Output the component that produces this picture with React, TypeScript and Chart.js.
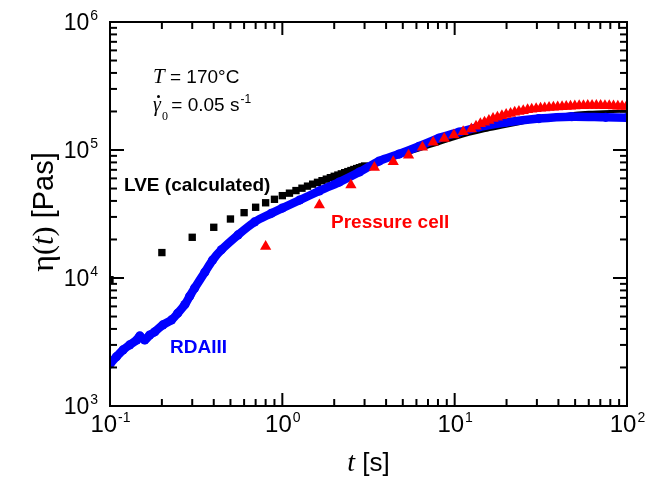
import React, { useEffect, useRef } from 'react';
import { Chart, registerables } from 'chart.js';

Chart.register(...registerables);

// LVE (calculated) – discrete squares
const lveT = [0.1, 0.2, 0.3, 0.4, 0.5, 0.6, 0.7, 0.8, 0.9, 1.0, 1.1, 1.2, 1.3, 1.4, 1.5, 1.6, 1.7, 1.8, 1.9, 2.0, 2.1, 2.2, 2.3, 2.4, 2.5, 2.6, 2.7, 2.8, 2.9, 3.0];
const lveEta = [9700, 15800, 20800, 24900, 28900, 32400, 35700, 38700, 41200, 44000, 46000, 48200, 50300, 52200, 54100, 55900, 57600, 59200, 60800, 62300, 63700, 65100, 66500, 67800, 69100, 70400, 71600, 72800, 73900, 75000];
// LVE (calculated) – dense part, rendered as continuous line
const lveLineT = [3.0, 4.0, 5.1, 6.5, 8.0, 9.9, 12.1, 15, 18.9, 24, 29.4, 37, 46, 60, 80, 100];
const lveLineEta = [75000, 84000, 92000, 102000, 111500, 122500, 132500, 142000, 151000, 161000, 171000, 182000, 191000, 197000, 200000, 201000];

// RDAIII
const rdaT = [0.1, 0.109, 0.119, 0.13, 0.143, 0.149, 0.159, 0.17, 0.182, 0.2025, 0.2275, 0.247, 0.272, 0.29, 0.31, 0.355, 0.394, 0.443, 0.553, 0.69, 0.863, 1.0, 1.26, 1.64, 2.14, 2.8, 3.65, 4.76, 6.22, 8.13, 10.6, 13.8, 19.6, 30.8, 47.8, 75.2, 100];
const rdaEta = [2130, 2430, 2740, 3000, 3280, 3530, 3280, 3580, 3800, 4300, 4700, 5300, 6200, 7200, 8350, 11100, 13800, 16600, 21700, 27400, 32000, 35200, 40600, 47900, 56200, 67300, 82000, 93000, 107000, 124000, 138000, 151000, 164000, 176000, 182000, 180000, 179000];

// Pressure cell
const pcT = [0.8, 1.64, 2.5, 3.42, 4.4, 5.4, 6.5, 7.5, 8.7, 9.9, 11.2, 12.5, 13.3, 14.1, 14.9, 15.8, 16.7, 17.7, 18.8, 19.9, 21.1, 22.3, 23.6, 25, 26.5, 28, 29.7, 31.5, 33.3, 35.3, 37.4, 39.6, 42, 44.4, 47, 49.8, 52.8, 55.9, 59.2, 62.7, 66.4, 70.3, 74.5, 78.9, 83.5, 88.5, 93.7, 99.2];
const pcEta = [17600, 37200, 53300, 73000, 81000, 91000, 105000, 115000, 123000, 131000, 139000, 146000, 153000, 160000, 165000, 170000, 176000, 180000, 185000, 189000, 193000, 197000, 200000, 203000, 206000, 208000, 210000, 212000, 213000, 215000, 216000, 217000, 218000, 219000, 220000, 221000, 222000, 222000, 223000, 223000, 223000, 223000, 222000, 222000, 221000, 220000, 220000, 219000];

// axes
const xMajor = [0.1, 1, 10, 100];
const xTickExp = ['-1', '0', '1', '2'];
const yMajor = [1e3, 1e4, 1e5, 1e6];
const yTickExp = ['3', '4', '5', '6'];
const minorMult = [2, 3, 4, 5, 6, 7, 8, 9];

const SANS = '"Liberation Sans", Arial, sans-serif';
const SERIF = '"Liberation Serif", "Times New Roman", serif';

const toXY = (t: number[], v: number[]) => t.map((x, i) => ({ x, y: v[i] }));

const framePlugin = {
  id: 'frameAndLabels',
  afterDraw(chart: any) {
    const { ctx, chartArea } = chart;
    const { left, right, top, bottom } = chartArea;
    const xs = chart.scales.x;
    const ys = chart.scales.y;
    ctx.save();
    ctx.strokeStyle = '#000';
    ctx.lineWidth = 2;
    ctx.strokeRect(left, top, right - left, bottom - top);

    const line = (x1: number, y1: number, x2: number, y2: number) => {
      ctx.beginPath();
      ctx.moveTo(x1, y1);
      ctx.lineTo(x2, y2);
      ctx.stroke();
    };
    // x ticks
    xMajor.forEach((d, i) => {
      const px = xs.getPixelForValue(d);
      line(px, bottom, px, bottom - 13);
      line(px, top, px, top + 13);
      if (i < xMajor.length - 1) {
        minorMult.forEach((m) => {
          const p = xs.getPixelForValue(d * m);
          line(p, bottom, p, bottom - 7);
          line(p, top, p, top + 7);
        });
      }
    });
    // y ticks
    yMajor.forEach((d, i) => {
      const py = ys.getPixelForValue(d);
      line(left, py, left + 14, py);
      line(right, py, right - 14, py);
      if (i < yMajor.length - 1) {
        minorMult.forEach((m) => {
          const p = ys.getPixelForValue(d * m);
          line(left, p, left + 7, p);
          line(right, p, right - 7, p);
        });
      }
    });

    ctx.fillStyle = '#000';
    ctx.textBaseline = 'alphabetic';
    ctx.textAlign = 'left';
    // x tick labels
    xMajor.forEach((d, i) => {
      const px = xs.getPixelForValue(d);
      ctx.font = `24px ${SANS}`;
      const w1 = ctx.measureText('10').width;
      ctx.font = `14px ${SANS}`;
      const w2 = ctx.measureText(xTickExp[i]).width;
      const x0 = px - (w1 + w2) / 2;
      ctx.font = `24px ${SANS}`;
      ctx.fillText('10', x0, bottom + 26);
      ctx.font = `14px ${SANS}`;
      ctx.fillText(xTickExp[i], x0 + w1 + 1, bottom + 16);
    });
    // y tick labels
    yMajor.forEach((d, i) => {
      const py = ys.getPixelForValue(d);
      ctx.font = `14px ${SANS}`;
      const w2 = ctx.measureText(yTickExp[i]).width;
      ctx.font = `23px ${SANS}`;
      const w1 = ctx.measureText('10').width;
      const xEnd = left - 12;
      ctx.fillText('10', xEnd - w2 - 1 - w1, py + 8);
      ctx.font = `14px ${SANS}`;
      ctx.fillText(yTickExp[i], xEnd - w2, py - 2);
    });

    // x axis title: t [s]
    {
      ctx.font = `italic 28px ${SERIF}`;
      const wt = ctx.measureText('t').width;
      ctx.font = `26px ${SANS}`;
      const ws = ctx.measureText(' [s]').width;
      const cx = (left + right) / 2;
      const x0 = cx - (wt + ws) / 2;
      ctx.font = `italic 28px ${SERIF}`;
      ctx.fillText('t', x0, 471);
      ctx.font = `26px ${SANS}`;
      ctx.fillText(' [s]', x0 + wt, 471);
    }
    // y axis title: η(t) [Pas]
    {
      ctx.save();
      ctx.translate(53, (top + bottom) / 2 - 2);
      ctx.rotate(-Math.PI / 2);
      const parts: [string, string][] = [
        ['η', `32px ${SERIF}`],
        ['(', `30px ${SERIF}`],
        ['t', `italic 31px ${SERIF}`],
        [')', `30px ${SERIF}`],
        [' [Pas]', `29px ${SANS}`],
      ];
      let total = 0;
      parts.forEach(([s, f]) => {
        ctx.font = f;
        total += ctx.measureText(s).width;
      });
      let x = -total / 2;
      parts.forEach(([s, f]) => {
        ctx.font = f;
        ctx.fillText(s, x, 0);
        x += ctx.measureText(s).width;
      });
      ctx.restore();
    }

    // annotation: T = 170°C
    ctx.font = `italic 21px ${SERIF}`;
    ctx.fillText('T', 153, 83);
    const wT = ctx.measureText('T').width;
    ctx.font = `19px ${SANS}`;
    ctx.fillText(' = 170°C', 153 + wT, 83);
    // annotation: gamma dot 0 = 0.05 s-1
    ctx.font = `italic 20px ${SERIF}`;
    ctx.fillText('γ', 153, 111);
    ctx.beginPath();
    ctx.arc(158.5, 96.5, 1.5, 0, Math.PI * 2);
    ctx.fill();
    ctx.font = `12px ${SERIF}`;
    ctx.fillText('0', 162, 120);
    ctx.font = `19px ${SANS}`;
    ctx.fillText(' = 0.05 s', 166, 111);
    const wg = ctx.measureText(' = 0.05 s').width;
    ctx.font = `12px ${SANS}`;
    ctx.fillText('-1', 166 + wg + 1, 103);

    // series labels
    ctx.font = `bold 19px ${SANS}`;
    ctx.fillStyle = '#000';
    ctx.fillText('LVE (calculated)', 124, 191);
    ctx.fillStyle = '#ff0000';
    ctx.fillText('Pressure cell', 331, 228);
    ctx.fillStyle = '#0000ff';
    ctx.fillText('RDAIII', 170, 353);
    ctx.restore();
  },
};

export default function App() {
  const ref = useRef<HTMLCanvasElement | null>(null);
  useEffect(() => {
    if (!ref.current) return;
    const chart = new Chart(ref.current, {
      type: 'scatter',
      data: {
        datasets: [
          {
            label: 'Pressure cell',
            data: toXY(pcT, pcEta),
            showLine: false,
            pointStyle: 'triangle',
            pointRadius: 6.5,
            pointBackgroundColor: '#ff0000',
            pointBorderWidth: 0,
            borderColor: '#ff0000',
            order: 0,
            clip: 0,
          },
          {
            label: 'RDAIII',
            data: toXY(rdaT, rdaEta),
            showLine: true,
            borderColor: '#0000ff',
            borderWidth: 8.5,
            borderCapStyle: 'round',
            borderJoinStyle: 'round',
            tension: 0.3,
            pointStyle: 'circle',
            pointRadius: 4.6,
            pointBackgroundColor: '#0000ff',
            pointBorderWidth: 0,
            order: 1,
            clip: 0,
          },
          {
            label: 'LVE (calculated)',
            data: toXY(lveT, lveEta),
            showLine: false,
            pointStyle: 'rect',
            pointRadius: 5.2,
            pointBackgroundColor: '#000000',
            pointBorderWidth: 0,
            borderColor: '#000000',
            order: 2,
            clip: 0,
          },
          {
            label: 'LVE line',
            data: toXY(lveLineT, lveLineEta),
            showLine: true,
            borderColor: '#000000',
            borderWidth: 3,
            tension: 0.3,
            pointRadius: 0,
            order: 3,
            clip: 0,
          },
        ],
      },
      options: {
        animation: false,
        responsive: false,
        devicePixelRatio: 1,
        layout: { padding: { left: 110, top: 22, right: 22, bottom: 73 } },
        plugins: { legend: { display: false }, tooltip: { enabled: false } },
        events: [],
        scales: {
          x: { type: 'logarithmic', min: 0.1, max: 100, display: false },
          y: { type: 'logarithmic', min: 1e3, max: 1e6, display: false },
        },
      },
      plugins: [framePlugin],
    } as any);
    return () => chart.destroy();
  }, []);
  return (
    <div style={{ position: 'fixed', left: 0, top: 0, width: 649, height: 479, background: '#fff' }}>
      <canvas ref={ref} width={649} height={479} style={{ width: 649, height: 479 }} />
    </div>
  );
}
